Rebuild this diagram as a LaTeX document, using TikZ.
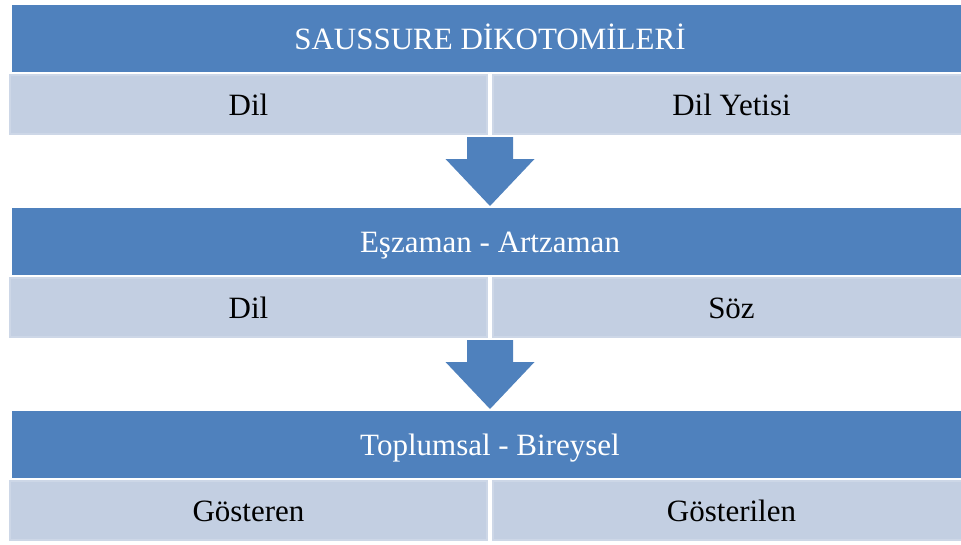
\documentclass[tikz,border=0pt]{standalone}
\usepackage{fontspec}
\setmainfont{Liberation Serif}
\definecolor{barblue}{RGB}{79,129,189}
\definecolor{cellblue}{RGB}{195,207,226}
\tikzset{
    pics/downarrow/.style={code={
        \fill[barblue] (-23,0) -- (23,0) -- (23,22) -- (44.5,22) -- (0,69) -- (-44.5,22) -- (-23,22) -- cycle;
    }}
}
\begin{document}
\begin{tikzpicture}[x=1pt, y=-1pt,
    bar/.style={rectangle, fill=barblue, minimum width=956pt, minimum height=67pt, inner sep=0pt, text height=21pt, text depth=0pt, text=white, font=\fontsize{31}{37}\selectfont},
    cell/.style={rectangle, fill=cellblue, draw=white, draw opacity=0.18, line width=4pt, minimum width=479pt, minimum height=61pt, inner sep=0pt, text height=21pt, text depth=0pt, font=\fontsize{31}{37}\selectfont}
]
    \useasboundingbox (0,0) rectangle (961,544);

    \node[bar] (b1) at (490,38.5) {SAUSSURE DİKOTOMİLERİ};
    \node[cell] (c1l) at (248.5,104.5) {Dil};
    \node[cell] (c1r) at (731.5,104.5) {Dil Yetisi};

    \node[bar] (b2) at (490,241.5) {Eşzaman - Artzaman};
    \node[cell] (c2l) at (248.5,307.5) {Dil};
    \node[cell] (c2r) at (731.5,307.5) {Söz};

    \node[bar] (b3) at (490,444.5) {Toplumsal - Bireysel};
    \node[cell] (c3l) at (248.5,510.5) {Gösteren};
    \node[cell] (c3r) at (731.5,510.5) {Gösterilen};

    \pic at (c1l.south east) {downarrow};
    \pic at (c2l.south east) {downarrow};
\end{tikzpicture}
\end{document}
